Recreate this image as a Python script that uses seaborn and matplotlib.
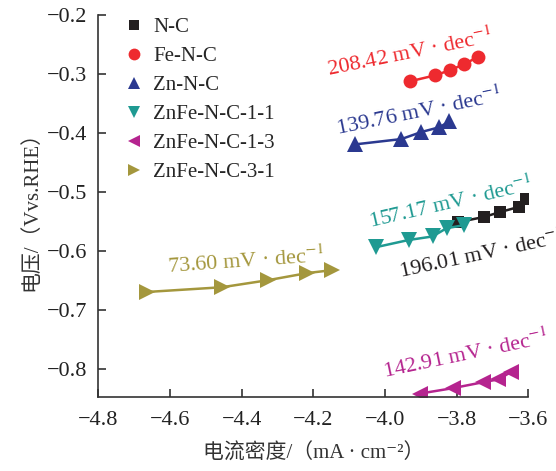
import matplotlib
matplotlib.use("Agg")
import matplotlib.pyplot as plt
from matplotlib.lines import Line2D
from matplotlib.ticker import FuncFormatter
import pandas as pd
import seaborn as sns

# ---------------- DATA ----------------
samples = ["N-C", "Fe-N-C", "Zn-N-C", "ZnFe-N-C-1-1", "ZnFe-N-C-1-3", "ZnFe-N-C-3-1"]
colors = ["#231f20", "#ee2a2f", "#2b3990", "#1f9a92", "#b5248f", "#a4973d"]
markers = ["s", "o", "^", "v", "<", ">"]
msizes = [8, 10, 11, 11, 11, 11]

x_nc = [-3.797, -3.724, -3.680, -3.627, -3.607]
y_nc = [-0.551, -0.542, -0.534, -0.525, -0.512]
x_fe = [-3.929, -3.859, -3.817, -3.778, -3.741]
y_fe = [-0.312, -0.302, -0.293, -0.283, -0.271]
x_zn = [-4.083, -3.954, -3.898, -3.848, -3.820]
y_zn = [-0.419, -0.410, -0.398, -0.390, -0.380]
x_11 = [-4.024, -3.934, -3.867, -3.828, -3.780]
y_11 = [-0.593, -0.581, -0.575, -0.561, -0.556]
x_13 = [-3.901, -3.811, -3.727, -3.683, -3.649]
y_13 = [-0.841, -0.832, -0.822, -0.817, -0.805]
x_31 = [-4.664, -4.455, -4.326, -4.217, -4.147]
y_31 = [-0.669, -0.661, -0.649, -0.637, -0.632]

tafel = ["196.01", "208.42", "139.76", "157.17", "142.91", "73.60"]
# label anchor (left baseline) and rotation
lab_x = [-3.957, -4.158, -4.133, -4.041, -4.001, -4.606]
lab_y = [-0.646, -0.303, -0.403, -0.561, -0.814, -0.637]
lab_rot = [12, 11.5, 11.5, 13, 11.8, 4]

xs = [x_nc, x_fe, x_zn, x_11, x_13, x_31]
ys = [y_nc, y_fe, y_zn, y_11, y_13, y_31]

# ---------------- STYLE ----------------
sns.set_style("ticks")
plt.rcParams["font.family"] = ["Liberation Serif", "Noto Sans CJK SC", "DejaVu Serif"]
plt.rcParams["mathtext.fontset"] = "stix"

fig = plt.figure(figsize=(5.56, 4.71), dpi=100)
ax = fig.add_axes([0.177, 0.157, 0.773, 0.811])

for name, c, m, ms, x, y in zip(samples, colors, markers, msizes, xs, ys):
    df = pd.DataFrame({"x": x, "y": y})
    sns.lineplot(data=df, x="x", y="y", ax=ax, color=c, marker=m, markersize=ms,
                 markeredgewidth=0, linewidth=1.8, sort=True, legend=False)

for t, c, lx, ly, r in zip(tafel, colors, lab_x, lab_y, lab_rot):
    ax.text(lx, ly, t + r" mV · dec$^{-1}$", color=c, fontsize=16, rotation=r,
            rotation_mode="anchor", ha="left", va="baseline", clip_on=False)

handles = [Line2D([], [], linestyle="none", marker=m, color=c, markersize=ms * 0.85,
                  markeredgewidth=0) for m, c, ms in zip(markers, colors, msizes)]
ax.legend(handles, samples, loc="upper left", bbox_to_anchor=(0.045, 1.015),
          frameon=False, fontsize=15, handlelength=0.8, handletextpad=0.5,
          labelspacing=0.45, borderaxespad=0)

minus = FuncFormatter(lambda v, p: f"{v:.1f}".replace("-", "\u2212"))
ax.set_xlim(-4.8, -3.6)
ax.set_ylim(-0.847, -0.2)
ax.set_xticks([-4.8, -4.6, -4.4, -4.2, -4.0, -3.8, -3.6])
ax.set_yticks([-0.8, -0.7, -0.6, -0.5, -0.4, -0.3, -0.2])
ax.xaxis.set_major_formatter(minus)
ax.yaxis.set_major_formatter(minus)
ax.tick_params(direction="in", length=6, width=1.2, labelsize=16, color="#333333",
               labelcolor="#222222")
ax.tick_params(axis="x", pad=10)
ax.tick_params(axis="y", pad=8)
for s in ["left", "bottom"]:
    ax.spines[s].set_linewidth(1.2)
    ax.spines[s].set_color("#333333")
sns.despine(ax=ax)

ax.set_xlabel("电流密度/（mA · cm⁻²）", fontsize=15, labelpad=10, color="#333333")
ax.set_ylabel("电压/（Vvs.RHE）", fontsize=15, labelpad=4, color="#333333")

fig.savefig("out.png", dpi=100)
